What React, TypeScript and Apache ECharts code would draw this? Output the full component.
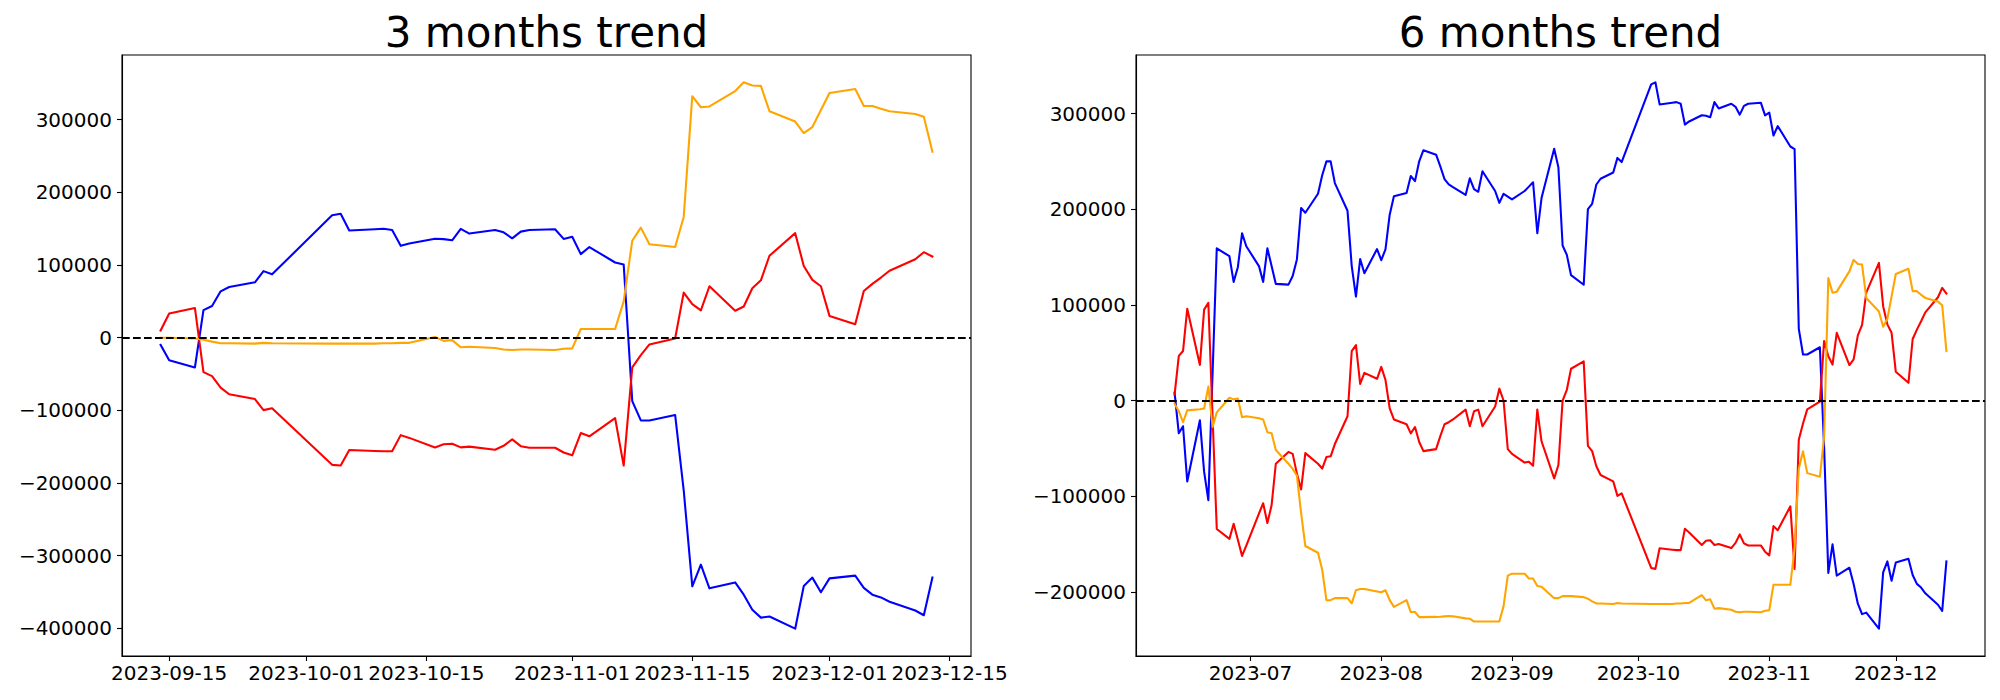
import React, { useEffect, useRef } from 'react';
import * as echarts from 'echarts';

// ---------- 3 months data ----------
const threeMonthDates = [
  '2023-09-14', '2023-09-15', '2023-09-18', '2023-09-19', '2023-09-20', '2023-09-21', '2023-09-22',
  '2023-09-25', '2023-09-26', '2023-09-27', '2023-10-04', '2023-10-05', '2023-10-06',
  '2023-10-09', '2023-10-10', '2023-10-11', '2023-10-12', '2023-10-13',
  '2023-10-16', '2023-10-17', '2023-10-18', '2023-10-19', '2023-10-20',
  '2023-10-23', '2023-10-24', '2023-10-25', '2023-10-26', '2023-10-27',
  '2023-10-30', '2023-10-31', '2023-11-01', '2023-11-02', '2023-11-03',
  '2023-11-06', '2023-11-07', '2023-11-08', '2023-11-09', '2023-11-10',
  '2023-11-13', '2023-11-14', '2023-11-15', '2023-11-16', '2023-11-17',
  '2023-11-20', '2023-11-21', '2023-11-22', '2023-11-23', '2023-11-24',
  '2023-11-27', '2023-11-28', '2023-11-29', '2023-11-30', '2023-12-01',
  '2023-12-04', '2023-12-05', '2023-12-06', '2023-12-07', '2023-12-08',
  '2023-12-11', '2023-12-12', '2023-12-13',
];
const threeMonthBlue = [
  -9800, -31000, -41000, 38000, 43600, 63800, 69800, 76300, 91600, 87200,
  168400, 170600, 147500, 149300, 149900, 148200, 126400, 129700, 136200, 135700,
  134100, 149900, 143300, 148200, 145000, 136800, 146000, 148200, 149300, 136000,
  139000, 115000, 124800, 103500, 100800, -87200, -113900, -113900, -106300, -210000,
  -342200, -312300, -345000, -336800, -353700, -374400, -385300, -383700, -400500, -341700,
  -330200, -350400, -331300, -327500, -344400, -353700, -357500, -363500, -375500, -382000, -330200,
];
const threeMonthRed = [
  9800, 33200, 40900, -47400, -52900, -68700, -77900, -84500, -99700, -97000,
  -175000, -176000, -154500, -155900, -156400, -156400, -134100, -137900, -151000, -146600,
  -146000, -151000, -149900, -154200, -148800, -140000, -149300, -151500, -151500, -158000,
  -161900, -131300, -135700, -110600, -176000, -40900, -24000, -9300, -1100, 62100,
  46300, 37600, 70800, 37100, 43000, 68100, 79000, 112800, 143900, 98600,
  79600, 70800, 30000, 18500, 64300, 74100, 82800, 92100, 107900, 117700, 111700,
];
const threeMonthOrange = [
  0, 0, -1000, -2700, -5400, -7600, -7600, -8200, -7100, -7600,
  -8200, -8200, -8200, -8200, -7600, -7600, -7100, -7100, 1100, -4400,
  -3300, -13100, -12500, -14200, -16300, -16900, -16300, -16300, -16900, -15300,
  -14700, 12000, 12000, 12000, 50000, 133500, 151500, 128600, 124800, 166200,
  332400, 317200, 318300, 339500, 351500, 347100, 346600, 311700, 297500, 281700,
  289900, 313400, 336800, 342200, 318800, 318800, 315000, 311700, 307900, 304100, 256100,
];

// ---------- 6 months data ----------
const sixMonthDates = [
  '2023-06-13', '2023-06-14', '2023-06-15', '2023-06-16', '2023-06-19', '2023-06-20', '2023-06-21',
  '2023-06-22', '2023-06-23', '2023-06-26', '2023-06-27', '2023-06-28', '2023-06-29', '2023-06-30',
  '2023-07-03', '2023-07-04', '2023-07-05', '2023-07-06', '2023-07-07', '2023-07-10', '2023-07-11',
  '2023-07-12', '2023-07-13', '2023-07-14', '2023-07-17', '2023-07-18', '2023-07-19', '2023-07-20',
  '2023-07-21', '2023-07-24', '2023-07-25', '2023-07-26', '2023-07-27', '2023-07-28', '2023-07-31',
  '2023-08-01', '2023-08-02', '2023-08-03', '2023-08-04', '2023-08-07', '2023-08-08', '2023-08-09',
  '2023-08-10', '2023-08-11', '2023-08-14', '2023-08-15', '2023-08-16', '2023-08-17', '2023-08-18',
  '2023-08-21', '2023-08-22', '2023-08-23', '2023-08-24', '2023-08-25', '2023-08-28', '2023-08-29',
  '2023-08-30', '2023-08-31', '2023-09-01', '2023-09-04', '2023-09-05', '2023-09-06', '2023-09-07',
  '2023-09-08', '2023-09-11', '2023-09-12', '2023-09-13',
  ...threeMonthDates,
];
const sixMonthBlue = [
  8300, -34300, -26900, -84700, -20700, -74400, -104100, 27700, 159100, 150800, 124000, 139300, 174800, 161200,
  140500, 124000, 159100, 140500, 121900, 121100, 130200, 147500, 201200, 196300, 216100, 235500, 250000, 250000,
  227300, 198300, 140500, 108700, 147900, 133100, 158300,
  146700, 157900, 194200, 213600, 216900, 234700, 229300, 250000, 261600, 257000, 244800, 231400, 226000, 223100,
  214900, 232200, 221000, 218200, 239700, 219000, 206600, 216100, 213200,
  210300, 219000, 223600, 228100, 174800, 211600, 263200, 243800, 162000,
  152200, 131000, 121000, 200000, 205600, 225800, 231800, 238300, 253600, 249200,
  330400, 332600, 309500, 311300, 311900, 310200, 288400, 291700, 298200, 297700,
  296100, 311900, 305300, 310200, 307000, 298800, 308000, 310200, 311300, 298000,
  301000, 277000, 286800, 265500, 262800, 74800, 48100, 48100, 55700, -48000,
  -180200, -150300, -183000, -174800, -191700, -212400, -223300, -221700, -238500, -179700,
  -168200, -188400, -169300, -165500, -182400, -191700, -195500, -201500, -213500, -220000, -168200,
];
const sixMonthRed = [
  6200, 46700, 51700, 95900, 37200, 95000, 102100, -16100, -134300, -144600, -128900, -145500, -162400, -151700,
  -118200, -107400, -128100, -109500, -66100, -53700, -55800, -76400, -93000, -55000, -66100, -71100, -59100, -58300,
  -45500, -16500, 51700, 57900, 17400, 28900, 22700,
  35100, 21500, -8300, -19800, -24800, -34300, -27700, -43400, -52900, -50800, -37200, -24800, -22700, -19800,
  -9500, -26900, -11200, -9500, -26900, -6200, 12400, 0, -50800,
  -55800, -64900, -64000, -68200, -9500, -42600, -81400, -67400, 0,
  11200, 33200, 40900, -47400, -52900, -68700, -77900, -84500, -99700, -97000,
  -175000, -176000, -154500, -155900, -156400, -156400, -134100, -137900, -151000, -146600,
  -146000, -151000, -149900, -154200, -148800, -140000, -149300, -151500, -151500, -158000,
  -161900, -131300, -135700, -110600, -176000, -40900, -24000, -9300, -1100, 62100,
  46300, 37600, 70800, 37100, 43000, 68100, 79000, 112800, 143900, 98600,
  79600, 70800, 30000, 18500, 64300, 74100, 82800, 92100, 107900, 117700, 111700,
];
const sixMonthOrange = [
  -3300, -11200, -22700, -10300, -9100, -8300, 14500, -27700, -12400, 2900, 1200, 2100, -17400, -16500,
  -18600, -19800, -33100, -34300, -51700, -66100, -71500, -78500, -117800, -152100, -159100, -176900, -208700, -208700,
  -206600, -206600, -212000, -198300, -197100, -197100, -199600,
  -200400, -198300, -208700, -215700, -208700, -221100, -221100, -226400, -226400, -226200, -226000, -225600, -225200, -225600,
  -227700, -228100, -231000, -231000, -231000, -231000, -231000, -214900, -183100,
  -181000, -181000, -186000, -186000, -193800, -194600, -206600, -206600, -204500,
  -204500, -204500, -205500, -207200, -209900, -212100, -212100, -212700, -211600, -212100,
  -212700, -212700, -212700, -212700, -212100, -212100, -211600, -211600, -203400, -208900,
  -207800, -217600, -217000, -218700, -220800, -221400, -220800, -220800, -221400, -219800,
  -219200, -192500, -192500, -192500, -154500, -71000, -53000, -75900, -79700, -38300,
  127900, 112700, 113800, 135000, 147000, 142600, 142100, 107200, 93000, 77200,
  85400, 108900, 132300, 137700, 114300, 114300, 110500, 107200, 103400, 99600, 51600,
];

// ---------- ticks ----------
const threeMonthXTicks = ['2023-09-15', '2023-10-01', '2023-10-15', '2023-11-01', '2023-11-15', '2023-12-01', '2023-12-15'];
const sixMonthXTicks = ['2023-07-01', '2023-08-01', '2023-09-01', '2023-10-01', '2023-11-01', '2023-12-01'];
const threeMonthYTicks = [-400000, -300000, -200000, -100000, 0, 100000, 200000, 300000];
const sixMonthYTicks = [-200000, -100000, 0, 100000, 200000, 300000];

const titles = ['3 months trend', '6 months trend'];

const FONT = '"DejaVu Sans", sans-serif';
const LINE_W = 2.08;

const ts = (d: string) => {
  const [y, m, dd] = d.split('-').map(Number);
  return Date.UTC(y, m - 1, dd);
};
const pad2 = (n: number) => (n < 10 ? '0' + n : '' + n);
const fmtDay = (v: number) => {
  const d = new Date(v);
  return `${d.getUTCFullYear()}-${pad2(d.getUTCMonth() + 1)}-${pad2(d.getUTCDate())}`;
};
const fmtMonth = (v: number) => {
  const d = new Date(v);
  return `${d.getUTCFullYear()}-${pad2(d.getUTCMonth() + 1)}`;
};
const fmtY = (v: number) => (v < 0 ? '\u2212' + Math.abs(v) : String(v));

const padRange = (vals: number[]) => {
  const mn = Math.min(...vals);
  const mx = Math.max(...vals);
  const p = (mx - mn) * 0.05;
  return [mn - p, mx + p];
};

const GRID_TOP = 55;
const GRID_H = 601;
const GRID_W = 849;
const GRID_LEFTS = [122, 1136];

function buildOption() {
  const panels = [
    {
      dates: threeMonthDates, blue: threeMonthBlue, red: threeMonthRed, orange: threeMonthOrange,
      xTicks: threeMonthXTicks, yTicks: threeMonthYTicks, fmt: fmtDay,
    },
    {
      dates: sixMonthDates, blue: sixMonthBlue, red: sixMonthRed, orange: sixMonthOrange,
      xTicks: sixMonthXTicks, yTicks: sixMonthYTicks, fmt: fmtMonth,
    },
  ];

  const grid: any[] = [];
  const xAxis: any[] = [];
  const yAxis: any[] = [];
  const series: any[] = [];
  const graphic: any[] = [];

  panels.forEach((p, i) => {
    const xs = p.dates.map(ts);
    const [xmin, xmax] = padRange(xs);
    const [ymin, ymax] = padRange([...p.blue, ...p.red, ...p.orange]);
    grid.push({
      left: GRID_LEFTS[i], top: GRID_TOP, width: GRID_W, height: GRID_H,
      show: true, borderColor: '#000', borderWidth: 1.1, backgroundColor: 'transparent',
    });
    xAxis.push({
      gridIndex: i, type: 'value', min: xmin, max: xmax, position: 'bottom',
      axisLine: { show: true, onZero: false, lineStyle: { color: '#000', width: 1.1 } },
      axisTick: { show: true, inside: false, length: 5, customValues: p.xTicks.map(ts), lineStyle: { color: '#000', width: 1.1 } },
      axisLabel: {
        show: true, customValues: p.xTicks.map(ts), formatter: (v: number) => p.fmt(v),
        fontSize: 20, color: '#000', fontFamily: FONT, margin: 7, hideOverlap: false,
      },
      splitLine: { show: false },
    });
    yAxis.push({
      gridIndex: i, type: 'value', min: ymin, max: ymax, position: 'left',
      axisLine: { show: true, onZero: false, lineStyle: { color: '#000', width: 1.1 } },
      axisTick: { show: true, inside: false, length: 5, customValues: p.yTicks, lineStyle: { color: '#000', width: 1.1 } },
      axisLabel: {
        show: true, customValues: p.yTicks, formatter: (v: number) => fmtY(v),
        fontSize: 20, color: '#000', fontFamily: FONT, margin: 10,
      },
      splitLine: { show: false },
    });
    const mk = (vals: number[], color: string) => ({
      type: 'line', xAxisIndex: i, yAxisIndex: i, showSymbol: false, symbol: 'none',
      data: xs.map((x, k) => [x, vals[k]]),
      lineStyle: { color, width: LINE_W, join: 'round', cap: 'square' },
      itemStyle: { color },
      emphasis: { disabled: true },
      silent: true,
    });
    series.push(mk(p.blue, '#0000ff'));
    series.push(mk(p.red, '#ff0000'));
    const orange: any = mk(p.orange, '#ffa500');
    orange.markLine = {
      silent: true, symbol: ['none', 'none'], animation: false,
      label: { show: false },
      lineStyle: { color: '#000', width: LINE_W, type: [7.7, 3.3] },
      emphasis: { disabled: true },
      data: [{ yAxis: 0 }],
    };
    series.push(orange);
    graphic.push({
      type: 'text', x: GRID_LEFTS[i] + GRID_W / 2, y: 32,
      style: {
        text: titles[i], font: `42px ${FONT}`, fill: '#000',
        textAlign: 'center', textVerticalAlign: 'middle',
      },
    });
  });

  return {
    animation: false,
    backgroundColor: '#ffffff',
    textStyle: { fontFamily: FONT },
    grid, xAxis, yAxis, series, graphic,
  };
}

export default function App() {
  const ref = useRef<HTMLDivElement>(null);
  useEffect(() => {
    if (!ref.current) return;
    const chart = echarts.init(ref.current, undefined, { renderer: 'svg' });
    chart.setOption(buildOption() as any);
    return () => chart.dispose();
  }, []);
  return (
    <div
      ref={ref}
      style={{ position: 'fixed', left: 0, top: 0, width: 2000, height: 700, background: '#fff' }}
    />
  );
}
